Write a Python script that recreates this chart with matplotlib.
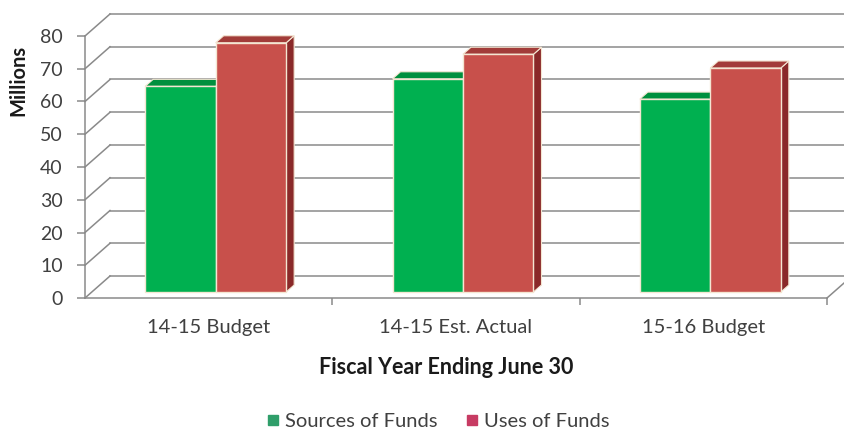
import matplotlib
matplotlib.use('Agg')
import matplotlib.pyplot as plt
from matplotlib.patches import Polygon
from matplotlib.lines import Line2D
import numpy as np

categories = ['14-15 Budget', '14-15 Est. Actual', '15-16 Budget']
sources = [62.8, 65.1, 58.9]
uses = [76.1, 72.6, 68.4]
yticks = [0, 10, 20, 30, 40, 50, 60, 70, 80]

plt.rcParams['font.family'] = ['Lato', 'DejaVu Sans']

W, H = 844, 432
fig = plt.figure(figsize=(W / 100, H / 100), dpi=100)
# axes = front plane of the floor / left wall
ax = fig.add_axes([85 / W, (H - 298) / H, (827 - 85) / W, (298 - 36) / H])
ax.set_xlim(-0.5, 2.5)
ax.set_ylim(0, 80)

# pixel -> data helpers for the fake 3D depth
px_x = 3 / 742
px_y = 80 / 262
DX, DY = 25 * px_x, 22 * px_y        # back wall offset
BX, BY = 7 * px_x, 6 * px_y          # bar front plane offset
DDX, DDY = 8 * px_x, 7 * px_y        # bar depth

grid_col = '#8a8a8a'
# back wall gridlines and left wall diagonals
for v in yticks:
    ax.plot([-0.5 + DX, 3.0], [v + DY, v + DY], color=grid_col, lw=1.1,
            clip_on=False, zorder=1)
    ax.plot([-0.5, -0.5 + DX], [v, v + DY], color=grid_col, lw=1.1,
            clip_on=False, zorder=1)
# right floor edge
ax.plot([2.5, 2.5 + DX], [0, DY], color=grid_col, lw=1.1, clip_on=False, zorder=1)

# bars
width = 0.285
x = np.arange(len(categories))
series = [(sources, '#00b050', '#00903e', '#007a33', -1),
          (uses, '#c8504b', '#a23c39', '#8a2929', 1)]
for vals, front, top, side, sgn in series:
    left = x + BX + (0 if sgn > 0 else -width)
    bars = ax.bar(left, vals, width, bottom=BY, align='edge', color=front,
                  edgecolor='#f4e6d2', linewidth=1.0, zorder=3)
    for b in bars:
        x0, x1 = b.get_x(), b.get_x() + b.get_width()
        y0, y1 = b.get_y(), b.get_y() + b.get_height()
        ax.add_patch(Polygon([(x1, y0), (x1 + DDX, y0 + DDY), (x1 + DDX, y1 + DDY), (x1, y1)],
                             closed=True, facecolor=side, edgecolor='#f4e6d2',
                             lw=0.8, zorder=2.9, clip_on=False))
        ax.add_patch(Polygon([(x0, y1), (x1, y1), (x1 + DDX, y1 + DDY), (x0 + DDX, y1 + DDY)],
                             closed=True, facecolor=top, edgecolor='#f4e6d2',
                             lw=0.8, zorder=2.9, clip_on=False))

# axes styling
for s in ['top', 'right']:
    ax.spines[s].set_visible(False)
for s in ['left', 'bottom']:
    ax.spines[s].set_color(grid_col)
    ax.spines[s].set_linewidth(1.1)
ax.set_yticks(yticks)
ax.tick_params(axis='y', colors=grid_col, length=6, width=1.1, pad=10,
               labelsize=14, labelcolor='#404040')
ax.set_xticks(x)
ax.set_xticklabels(categories)
ax.tick_params(axis='x', length=0, pad=15, labelsize=14.5, labelcolor='#404040')
ax.set_xticks([0.5, 1.5, 2.5], minor=True)
ax.tick_params(axis='x', which='minor', length=5, width=1.1, colors=grid_col)
ax.set_facecolor('none')

fig.text(18 / W, 1 - 80 / H, 'Millions', rotation=90, fontsize=14.5,
         fontweight='bold', ha='center', va='center', color='#1a1a1a')
fig.text(446 / W, 1 - 367 / H, 'Fiscal Year Ending June 30', fontsize=15.5,
         fontweight='bold', ha='center', va='center', color='#1a1a1a')

handles = [Line2D([], [], marker='s', ls='none', color='#2f9e6a', markersize=7),
           Line2D([], [], marker='s', ls='none', color='#c73b63', markersize=7)]
leg = fig.legend(handles, ['Sources of Funds', 'Uses of Funds'], loc='center',
                 bbox_to_anchor=(436 / W, 1 - 421 / H), ncol=2, frameon=False,
                 fontsize=14.5, handletextpad=0.1, columnspacing=1.2,
                 handlelength=1.0)
for t in leg.get_texts():
    t.set_color('#404040')

fig.savefig('out.png', dpi=100)
